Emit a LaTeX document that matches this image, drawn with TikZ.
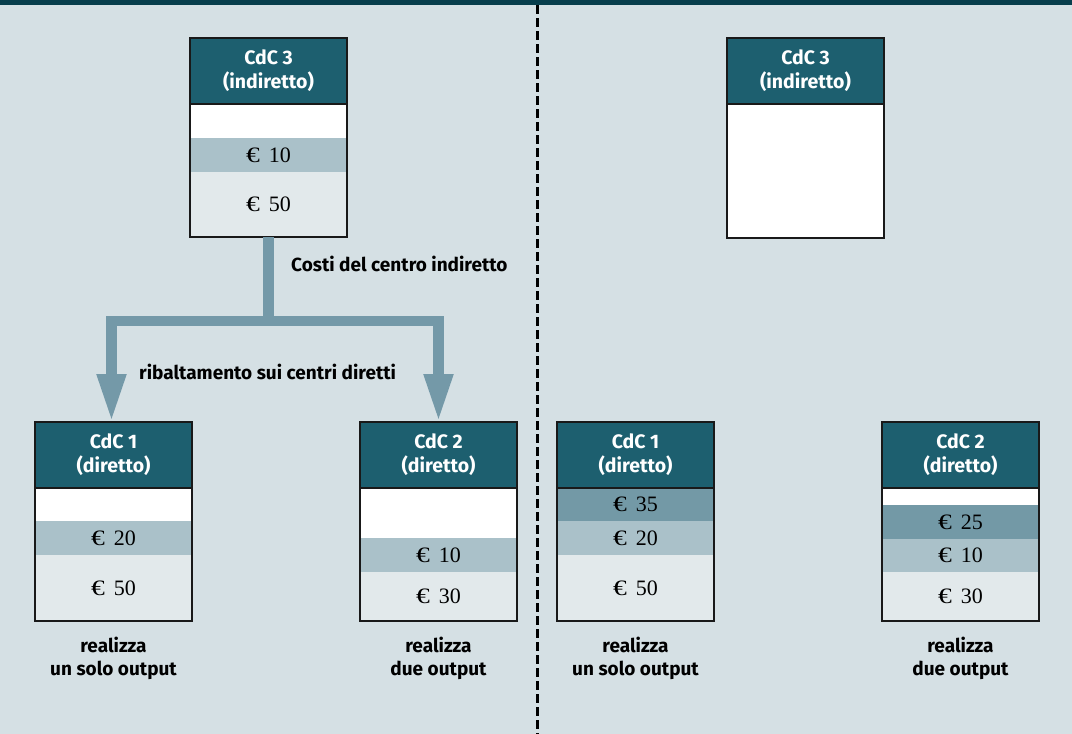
\documentclass[tikz,border=0pt]{standalone}
\usepackage{fontspec}
\setmainfont{Liberation Serif}
\setsansfont{Fira Sans}
\usetikzlibrary{arrows.meta}
\definecolor{bg}{HTML}{D5E0E4}
\definecolor{topbar}{HTML}{073E4C}
\definecolor{headc}{HTML}{1D5F6F}
\definecolor{bandmid}{HTML}{AAC1C9}
\definecolor{banddark}{HTML}{7399A6}
\definecolor{bandlight}{HTML}{E2E9EB}
\definecolor{flowc}{HTML}{7499A8}
\newcommand{\euro}[1]{\scalebox{1.25}[1]{€}\hspace{9pt}#1}
\begin{document}
\begin{tikzpicture}[x=1pt,y=-1pt,
  headbox/.style={anchor=north west, fill=headc, minimum width=157pt, minimum height=66pt,
    inner sep=0pt, outer sep=0pt, align=center, text=white,
    font=\sffamily\bfseries\fontsize{19.5}{24}\selectfont},
  band/.style={anchor=north, minimum width=157pt, minimum height=#1, inner sep=0pt,
    outer sep=0pt, font=\fontsize{22}{24}\selectfont},
  blank/.style={band=#1, fill=white},
  mid/.style={band=#1, fill=bandmid},
  dark/.style={band=#1, fill=banddark},
  light/.style={band=#1, fill=bandlight},
  frame/.style={draw=black!90, line width=1.3pt},
  flow/.style={draw=flowc, line width=10.5pt},
  flowtip/.style={flow, -{Triangle[width=27pt,length=48pt]}},
  label/.style={font=\sffamily\bfseries\fontsize{19}{23}\selectfont, inner sep=0pt, align=center},
]
% canvas and top rule
\fill[bg] (0,0) rectangle (1072,734);
\useasboundingbox (0,0) rectangle (1072,734);
\fill[topbar] (0,0) rectangle (1072,5);
\draw[line width=3pt, dash pattern=on 8.5pt off 4.5pt] (537,5) -- (537,734);

% ---------- left half: before allocation ----------
\node[headbox] (h3) at (190,38) {CdC 3\\(indiretto)};
\node[blank=34pt] (h3a) at (h3.south) {};
\node[mid=34pt] (h3b) at (h3a.south) {\euro{10}};
\node[light=65pt] (h3c) at (h3b.south) {\euro{50}};
\draw[frame] (h3.north west) rectangle (h3c.south east);
\draw[frame] (h3.south west) -- (h3.south east);

\node[headbox] (h1) at (35,422) {CdC 1\\(diretto)};
\node[blank=33pt] (h1a) at (h1.south) {};
\node[mid=34pt] (h1b) at (h1a.south) {\euro{20}};
\node[light=66pt] (h1c) at (h1b.south) {\euro{50}};
\draw[frame] (h1.north west) rectangle (h1c.south east);
\draw[frame] (h1.south west) -- (h1.south east);

\node[headbox] (h2) at (360,422) {CdC 2\\(diretto)};
\node[blank=50pt] (h2a) at (h2.south) {};
\node[mid=34pt] (h2b) at (h2a.south) {\euro{10}};
\node[light=49pt] (h2c) at (h2b.south) {\euro{30}};
\draw[frame] (h2.north west) rectangle (h2c.south east);
\draw[frame] (h2.south west) -- (h2.south east);

% allocation arrows
\coordinate (split) at (h3c.south |- 0,321);
\draw[flow] (h3c.south) -- (split);
\draw[flowtip] (split) -| ([xshift=-2pt]h1.north);
\draw[flowtip] (split) -| (h2.north);
\node[label, anchor=west] (lcost) at (291,264) {Costi del centro indiretto};
\node[label, anchor=west] (lrib) at (139,372) {ribaltamento sui centri diretti};

\node[label] (cap1) at (113.5,658) {realizza\\un solo output};
\node[label] (cap2) at (438.5,658) {realizza\\due output};

% ---------- right half: after allocation ----------
\node[headbox] (k3) at (727,38) {CdC 3\\(indiretto)};
\node[blank=134pt] (k3a) at (k3.south) {};
\draw[frame] (k3.north west) rectangle (k3a.south east);
\draw[frame] (k3.south west) -- (k3.south east);

\node[headbox] (k1) at (557,422) {CdC 1\\(diretto)};
\node[dark=33pt] (k1a) at (k1.south) {\euro{35}};
\node[mid=34pt] (k1b) at (k1a.south) {\euro{20}};
\node[light=66pt] (k1c) at (k1b.south) {\euro{50}};
\draw[frame] (k1.north west) rectangle (k1c.south east);
\draw[frame] (k1.south west) -- (k1.south east);

\node[headbox] (k2) at (882,422) {CdC 2\\(diretto)};
\node[blank=17pt] (k2a) at (k2.south) {};
\node[dark=34pt] (k2b) at (k2a.south) {\euro{25}};
\node[mid=33pt] (k2c) at (k2b.south) {\euro{10}};
\node[light=49pt] (k2d) at (k2c.south) {\euro{30}};
\draw[frame] (k2.north west) rectangle (k2d.south east);
\draw[frame] (k2.south west) -- (k2.south east);

\node[label] (cap3) at (635.5,658) {realizza\\un solo output};
\node[label] (cap4) at (960.5,658) {realizza\\due output};
\end{tikzpicture}
\end{document}
